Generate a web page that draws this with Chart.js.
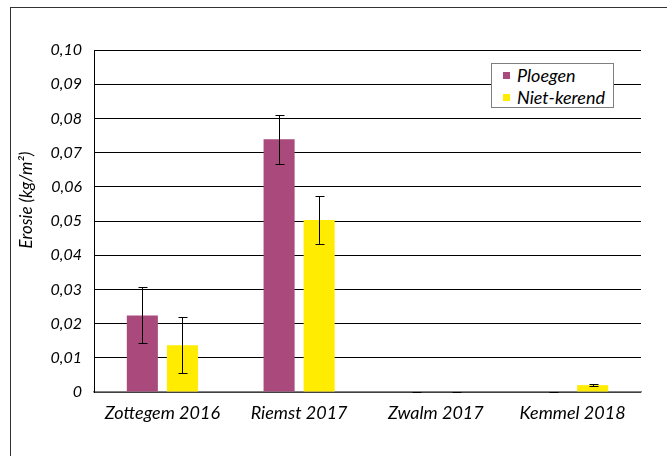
<!DOCTYPE html>
<html>
<head>
<meta charset="utf-8">
<script src="https://cdn.jsdelivr.net/npm/chart.js@4.4.1/dist/chart.umd.min.js"></script>
<style>
  html, body { margin: 0; padding: 0; background: #fff; }
  #wrap { position: relative; width: 667px; height: 456px; overflow: hidden; }
  #frame { position: absolute; left: 10px; top: 7px; width: 700px; height: 500px;
           border-left: 1.5px solid #333; border-top: 1.5px solid #333; pointer-events: none; }
  canvas { position: absolute; left: 0; top: 0; }
  #legend { position: absolute; left: 491px; top: 63px; width: 121px; height: 43px;
            border: 1px solid #7f7f7f; background: #fff; font-family: Lato, sans-serif;
            font-style: italic; font-size: 18px; color: #000; }
  .item { position: absolute; left: 11px; height: 20px; line-height: 20px; white-space: nowrap; }
  .sw { position: absolute; left: 0; top: 7px; width: 7px; height: 7px; }
  .lbl { position: absolute; left: 14px; top: 0; }
</style>
</head>
<body>
<div id="wrap">
  <canvas id="c" width="667" height="456"></canvas>
  <div id="frame"></div>
  <div id="legend"></div>
</div>
<script>
const categories = ['Zottegem 2016', 'Riemst 2017', 'Zwalm 2017', 'Kemmel 2018'];
const seriesNames = ['Ploegen', 'Niet-kerend'];
const ploegen = [0.0224, 0.0739, 0.0, 0.0];
const ploegenErr = [0.0082, 0.0071, 0.0001, 0.0001];
const nietKerend = [0.0137, 0.0503, 0.0, 0.0020];
const nietKerendErr = [0.0081, 0.0070, 0.0001, 0.0002];
const yTickValues = [0, 0.01, 0.02, 0.03, 0.04, 0.05, 0.06, 0.07, 0.08, 0.09, 0.10];
const yTickLabels = ['0', '0,01', '0,02', '0,03', '0,04', '0,05', '0,06', '0,07', '0,08', '0,09', '0,10'];
const yTitle = 'Erosie (kg/m²)';
const colors = ['#A9497C', '#FFEC00'];

// HTML legend
const legend = document.getElementById('legend');
seriesNames.forEach((n, i) => {
  const d = document.createElement('div');
  d.className = 'item';
  d.style.top = (1 + i * 22) + 'px';
  d.innerHTML = '<span class="sw" style="background:' + colors[i] + '"></span><span class="lbl">' + n + '</span>';
  legend.appendChild(d);
});

const errorBars = {
  id: 'errorBars',
  afterDatasetsDraw(chart) {
    const ctx = chart.ctx;
    const ys = chart.scales.y;
    ctx.save();
    ctx.strokeStyle = '#000';
    ctx.lineWidth = 1;
    chart.data.datasets.forEach((ds, di) => {
      const meta = chart.getDatasetMeta(di);
      meta.data.forEach((el, i) => {
        const v = ds.data[i], e = ds.errors[i];
        const x = Math.round(el.x) + 0.5;
        const yTop = Math.round(ys.getPixelForValue(v + e)) + 0.5;
        const yBot = Math.round(ys.getPixelForValue(Math.max(0, v - e))) + 0.5;
        ctx.beginPath();
        ctx.moveTo(x, yTop); ctx.lineTo(x, yBot);
        ctx.moveTo(x - 4, yTop); ctx.lineTo(x + 5, yTop);
        if (v - e > 0) { ctx.moveTo(x - 4, yBot); ctx.lineTo(x + 5, yBot); }
        ctx.stroke();
      });
    });
    ctx.restore();
  }
};

const yTitlePlugin = {
  id: 'yTitle',
  afterDraw(chart) {
    const ctx = chart.ctx;
    ctx.save();
    ctx.translate(27, 200);
    ctx.rotate(-Math.PI / 2);
    ctx.font = 'italic 17px Lato';
    ctx.fillStyle = '#000';
    ctx.textAlign = 'center';
    ctx.textBaseline = 'middle';
    ctx.fillText(yTitle, 0, 0);
    ctx.restore();
  }
};

new Chart(document.getElementById('c'), {
  type: 'bar',
  data: {
    labels: categories,
    datasets: [
      { label: seriesNames[0], data: ploegen, errors: ploegenErr, backgroundColor: colors[0] },
      { label: seriesNames[1], data: nietKerend, errors: nietKerendErr, backgroundColor: colors[1] }
    ]
  },
  options: {
    responsive: false,
    animation: false,
    devicePixelRatio: 1,
    categoryPercentage: 0.586,
    barPercentage: 0.775,
    layout: { padding: { top: 50, right: 26, left: 0, bottom: 0 } },
    plugins: { legend: { display: false }, tooltip: { enabled: false } },
    scales: {
      x: {
        grid: { display: false, drawTicks: false },
        border: { color: '#808080', width: 1.5 },
        ticks: { font: { family: 'Lato', style: 'italic', size: 18 }, color: '#000', padding: 10, maxRotation: 0 },
        afterFit(s) { s.height = 64; }
      },
      y: {
        min: 0, max: 0.10,
        afterBuildTicks(s) { s.ticks = yTickValues.map(v => ({ value: v })); },
        ticks: {
          font: { family: 'Lato', style: 'italic', size: 16 }, color: '#000', padding: 12,
          callback(v, i) { return yTickLabels[i]; }
        },
        grid: { color: '#000', lineWidth: 1, drawTicks: false },
        border: { color: '#000', width: 1 },
        afterFit(s) { s.width = 94; }
      }
    }
  },
  plugins: [errorBars, yTitlePlugin]
});
</script>
</body>
</html>
